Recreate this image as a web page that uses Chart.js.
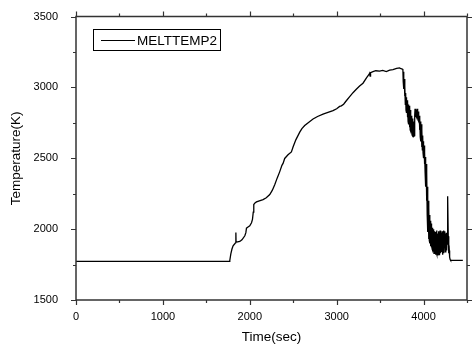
<!DOCTYPE html>
<html>
<head>
<meta charset="utf-8">
<script src="https://cdn.jsdelivr.net/npm/chart.js@4/dist/chart.umd.min.js"></script>
<style>
html,body{margin:0;padding:0;background:#fff;overflow:hidden;}
canvas{display:block;}
</style>
</head>
<body>
<canvas id="c" width="473" height="349"></canvas>
<script>
const seriesLabel = 'MELTTEMP2';
const xTitle = 'Time(sec)';
const yTitle = 'Temperature(K)';
const xTickLabels = [0, 1000, 2000, 3000, 4000];
const yTickLabels = [1500, 2000, 2500, 3000, 3500];

const times = [
 0, 1765, 1770, 1782, 1795, 1808, 1825, 1838, 1840, 1842, 1860, 1885, 1910, 1943, 1955, 1962, 1980, 2000, 2020, 2031,
 2040, 2046, 2060, 2077, 2110, 2153, 2190, 2230, 2260, 2287, 2315, 2345, 2370, 2383, 2402, 2440, 2479, 2498, 2530, 2575,
 2600, 2632, 2680, 2728, 2780, 2843, 2900, 2958, 3000, 3034, 3054, 3080, 3111, 3150, 3188, 3226, 3264, 3303, 3345, 3370,
 3379, 3385, 3390, 3418, 3450, 3494, 3530, 3571, 3610, 3648, 3690, 3724, 3740, 3755,
 3762, 3766, 3770, 3774, 3778, 3782, 3786, 3790, 3794, 3798, 3802, 3806, 3810, 3814, 3818, 3822, 3826, 3830, 3834, 3838,
 3842, 3846, 3850, 3854, 3858, 3862, 3866, 3870, 3874, 3878, 3882, 3886, 3890, 3894, 3898, 3902, 3906, 3910, 3914, 3918,
 3922, 3926, 3930, 3934, 3938, 3942, 3946, 3950, 3954, 3958, 3962, 3966, 3970, 3974, 3978, 3982, 3986, 3990, 3994, 3998,
 4002, 4006, 4010, 4014, 4018, 4022, 4026, 4030, 4034, 4038, 4042, 4046, 4050, 4054, 4058, 4062, 4066, 4070, 4074, 4078,
 4082, 4086, 4090, 4094, 4098, 4102, 4106, 4110, 4114, 4118, 4122, 4126, 4130, 4134, 4138, 4142, 4146, 4150, 4154, 4158,
 4162, 4166, 4170, 4174, 4178, 4182, 4186, 4190, 4194, 4198, 4202, 4206, 4210, 4214, 4218, 4222, 4226, 4230, 4234, 4238,
 4242, 4246, 4250, 4254, 4258, 4262, 4266, 4270, 4274, 4278, 4280, 4284, 4288, 4292, 4296, 4300, 4306, 4312, 4318, 4452
];
const temps = [
 1772, 1772, 1779, 1825, 1860, 1883, 1895, 1905, 1976, 1908, 1910, 1913, 1925, 1953, 1975, 2007, 2015, 2023, 2045, 2069,
 2120, 2174, 2185, 2192, 2200, 2209, 2222, 2244, 2275, 2313, 2360, 2406, 2450, 2464, 2499, 2525, 2545, 2580, 2630, 2685,
 2710, 2731, 2755, 2777, 2795, 2812, 2824, 2836, 2850, 2866, 2870, 2882, 2906, 2935, 2963, 2987, 3010, 3030, 3070, 3090,
 3100, 3080, 3105, 3112, 3118, 3115, 3120, 3112, 3122, 3126, 3135, 3138, 3132, 3130,
 3126, 3040, 3110, 2990, 3060, 2940, 3010, 2880, 2960, 2840, 2930, 2820, 2910, 2790, 2900, 2760, 2880, 2740, 2870, 2720,
 2860, 2700, 2840, 2690, 2800, 2680, 2790, 2660, 2780, 2655, 2760, 2650, 2740, 2660, 2800, 2850, 2790, 2845, 2800, 2840,
 2790, 2850, 2780, 2835, 2770, 2830, 2760, 2800, 2700, 2780, 2650, 2760, 2620, 2740, 2580, 2700, 2560, 2660, 2540, 2620,
 2500, 2590, 2460, 2540, 2400, 2510, 2300, 2460, 2200, 2400, 2100, 2300, 1980, 2200, 1930, 2150, 1920, 2100, 1900, 2060,
 1880, 2040, 1870, 2020, 1860, 2010, 1850, 2000, 1840, 1990, 1830, 1985, 1835, 1980, 1820, 1975, 1840, 1990, 1825, 1970,
 1814, 1960, 1830, 1985, 1820, 1965, 1850, 1990, 1830, 1980, 1860, 1975, 1840, 1985, 1820, 1976, 1850, 1990, 1830, 1970,
 1870, 1985, 1840, 1965, 1880, 1975, 1850, 1960, 1890, 1960, 2232, 1950, 1900, 1830, 1850, 1802, 1785, 1779, 1779, 1779
];

const FONT = "'Liberation Sans', Arial, Helvetica, sans-serif";
const AXIS_COLOR = '#333';

const framePlugin = {
  id: 'frame',
  afterDraw(chart) {
    const {ctx, chartArea: a, scales: {x, y}} = chart;
    ctx.save();
    ctx.strokeStyle = AXIS_COLOR;
    ctx.lineWidth = 1.5;
    ctx.beginPath();
    ctx.rect(a.left, a.top, a.right - a.left, a.bottom - a.top);
    ctx.stroke();
    ctx.lineWidth = 1.2;
    ctx.beginPath();
    for (let v = x.min; v <= x.max + 0.001; v += 500) {
      const px = Math.round(x.getPixelForValue(v)) + 0.5;
      const len = (v % 1000 === 0) ? 5 : 3;
      ctx.moveTo(px, a.bottom); ctx.lineTo(px, a.bottom + len);
      ctx.moveTo(px, a.top); ctx.lineTo(px, a.top - len);
    }
    for (let v = y.min; v <= y.max + 0.001; v += 250) {
      const py = Math.round(y.getPixelForValue(v)) + 0.5;
      const len = (v % 500 === 0) ? 5 : 3;
      ctx.moveTo(a.left, py); ctx.lineTo(a.left - len, py);
      ctx.moveTo(a.right, py); ctx.lineTo(a.right + len, py);
    }
    ctx.stroke();
    // legend box
    const bx = 93.5, by = 29.5, bw = 127, bh = 21;
    ctx.lineWidth = 1;
    ctx.strokeStyle = '#000';
    ctx.strokeRect(bx, by, bw, bh);
    const ds = chart.data.datasets[0];
    ctx.beginPath();
    ctx.moveTo(101, 40.5); ctx.lineTo(135, 40.5);
    ctx.strokeStyle = ds.borderColor;
    ctx.stroke();
    ctx.fillStyle = '#000';
    ctx.font = '13.5px ' + FONT;
    ctx.textBaseline = 'middle';
    ctx.textAlign = 'left';
    ctx.fillText(ds.label, 137, 41);
    ctx.restore();
  }
};

new Chart(document.getElementById('c'), {
  type: 'line',
  data: {
    datasets: [{
      label: seriesLabel,
      data: times.map((t, i) => ({x: t, y: temps[i]})),
      borderColor: '#000',
      borderWidth: 1.3,
      pointRadius: 0,
      tension: 0,
      fill: false
    }]
  },
  options: {
    responsive: false,
    animation: false,
    layout: {padding: {top: 13, right: 6, left: 0, bottom: 0}},
    plugins: {legend: {display: false}, tooltip: {enabled: false}},
    scales: {
      x: {
        type: 'linear', position: 'bottom', min: 0, max: 4500,
        afterBuildTicks(s) { s.ticks = xTickLabels.map(v => ({value: v})); },
        ticks: {color: '#000', font: {family: FONT, size: 11}, padding: 2, maxRotation: 0, autoSkip: false,
                callback: v => String(v)},
        grid: {display: false},
        border: {display: false},
        title: {display: true, text: xTitle, color: '#000', font: {family: FONT, size: 13.5}, padding: {top: 0, bottom: 4}},
        afterFit(s) { s.height = 49; }
      },
      y: {
        type: 'linear', position: 'left', min: 1500, max: 3500,
        afterBuildTicks(s) { s.ticks = yTickLabels.map(v => ({value: v})); },
        ticks: {color: '#000', font: {family: FONT, size: 11}, padding: 10, callback: v => String(v)},
        grid: {display: false},
        border: {display: false},
        title: {display: true, text: yTitle, color: '#000', font: {family: FONT, size: 13.5}, padding: {top: 8, bottom: 0}},
        afterFit(s) { s.width = 76; }
      }
    }
  },
  plugins: [framePlugin]
});
</script>
</body>
</html>
